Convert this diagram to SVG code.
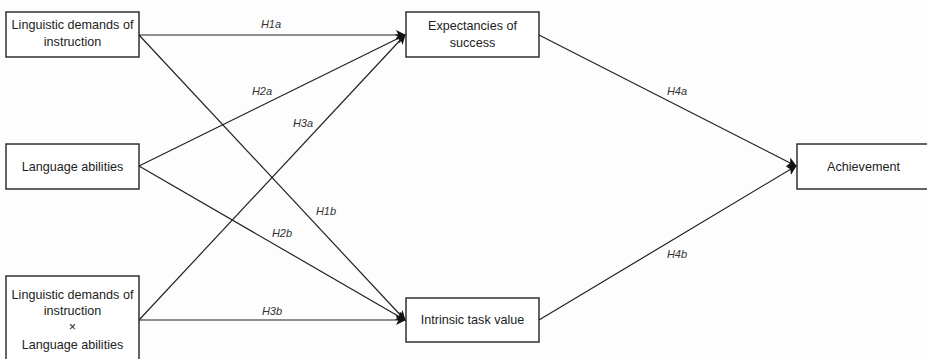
<svg xmlns="http://www.w3.org/2000/svg" width="927" height="359" viewBox="0 0 927 359">
<defs>
<style>
.box{fill:#fff;stroke:#222;stroke-width:1.4}
.t{font-family:"Liberation Sans",Arial,sans-serif;font-size:12.6px;fill:#222;text-anchor:middle}
.l{font-family:"Liberation Sans",Arial,sans-serif;font-size:11px;font-style:italic;fill:#333;text-anchor:middle}
.c{stroke:#222;stroke-width:1.2;fill:none;marker-end:url(#arr)}
</style>
<marker id="arr" viewBox="0 0 10 10" refX="9" refY="5" markerWidth="10" markerHeight="10" markerUnits="userSpaceOnUse" orient="auto">
<path d="M0,0 L10,5 L0,10 L2.5,5 Z" fill="#111"/>
</marker>
</defs>
<rect width="927" height="359" fill="#fdfdfd"/>
<g id="connectors">
<line class="c" x1="139" y1="35" x2="405" y2="35"/>
<line class="c" x1="139" y1="35" x2="405" y2="320"/>
<line class="c" x1="139" y1="166" x2="405" y2="35"/>
<line class="c" x1="139" y1="166" x2="405" y2="320"/>
<line class="c" x1="139" y1="320" x2="405" y2="35"/>
<line class="c" x1="139" y1="320" x2="405" y2="320"/>
<line class="c" x1="539" y1="35" x2="796" y2="166"/>
<line class="c" x1="539" y1="320" x2="796" y2="166"/>
<text class="l" x="271" y="28">H1a</text>
<text class="l" x="326" y="215">H1b</text>
<text class="l" x="262" y="95">H2a</text>
<text class="l" x="282" y="237">H2b</text>
<text class="l" x="303" y="127">H3a</text>
<text class="l" x="272" y="315">H3b</text>
<text class="l" x="677" y="95">H4a</text>
<text class="l" x="677" y="258">H4b</text>
</g>
<g id="n1">
<rect class="box" x="6" y="12" width="133" height="45"/>
<text class="t" x="72.5" y="29">Linguistic demands of</text>
<text class="t" x="72.5" y="46">instruction</text>
</g>
<g id="n2">
<rect class="box" x="6" y="144" width="133" height="45"/>
<text class="t" x="72.5" y="171">Language abilities</text>
</g>
<g id="n3">
<rect class="box" x="6" y="276" width="133" height="90"/>
<text class="t" x="72.5" y="299">Linguistic demands of</text>
<text class="t" x="72.5" y="315">instruction</text>
<text class="t" x="72.5" y="331">×</text>
<text class="t" x="72.5" y="349">Language abilities</text>
</g>
<g id="n4">
<rect class="box" x="406" y="12" width="133" height="45"/>
<text class="t" x="472.5" y="30">Expectancies of</text>
<text class="t" x="472.5" y="47">success</text>
</g>
<g id="n5">
<rect class="box" x="406" y="298" width="133" height="44"/>
<text class="t" x="472.5" y="324">Intrinsic task value</text>
</g>
<g id="n6">
<rect class="box" x="797" y="144" width="133" height="45"/>
<text class="t" x="863.5" y="171">Achievement</text>
</g>
</svg>
